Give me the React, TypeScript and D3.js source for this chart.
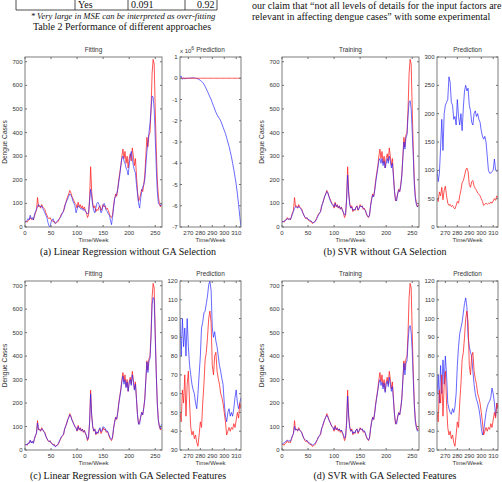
import { useEffect, useRef } from "react";
import * as d3 from "d3";

// weekly dengue cases in the training period, every 2nd week from week 0 to 262
const actualFit = [
  22, 25, 20, 28, 30, 40, 32, 35, 30, 45,
  60, 70, 125, 85, 90, 80, 95, 85, 80, 75,
  60, 50, 40, 35, 40, 30, 28, 22, 25, 15,
  18, 20, 25, 35, 45, 55, 60, 65, 90, 100,
  115, 130, 140, 155, 145, 130, 120, 110, 100, 95,
  80, 105, 85, 95, 80, 90, 75, 85, 70, 60,
  40, 50, 120, 255, 150, 100, 80, 90, 65, 75,
  70, 85, 90, 70, 80, 95, 85, 90, 75, 80,
  70, 55, 45, 40, 50, 90, 120, 140, 130, 160,
  200, 230, 260, 300, 330, 290, 320, 270, 300, 250,
  290, 310, 280, 335, 300, 260, 290, 220, 150, 110,
  120, 140, 160, 150, 180, 220, 300, 380, 340, 390,
  400, 500, 650, 710, 690, 500, 330, 200, 130, 100,
  85, 95,
];

// fitted values, linear regression on all factors
const fitLrAll = [
  20, 22, 28, 35, 30, 50, 35, 40, 30, 50,
  65, 75, 85, 95, 90, 85, 90, 80, 70, 60,
  50, 40, 20, 5, 0, 20, 30, 35, 20, 15,
  20, 25, 30, 35, 40, 50, 60, 70, 80, 100,
  110, 120, 130, 140, 135, 125, 110, 100, 90, 60,
  75, 90, 85, 80, 75, 80, 70, 75, 65, 60,
  55, 60, 110, 160, 130, 90, 70, 60, 80, 100,
  105, 95, 80, 60, 70, 95, 100, 85, 70, 65,
  55, 50, 30, 10, 40, 80, 120, 130, 140, 160,
  190, 220, 260, 290, 300, 280, 270, 250, 240, 220,
  260, 300, 320, 290, 260, 240, 230, 180, 140, 100,
  80, 120, 150, 170, 180, 200, 260, 320, 360, 400,
  440, 500, 555, 550, 500, 380, 250, 150, 100, 95,
  90, 100,
];

// training output, SVR on all factors
const fitSvrAll = [
  20, 22, 25, 28, 30, 35, 33, 35, 32, 40,
  55, 65, 80, 85, 85, 80, 88, 82, 78, 70,
  60, 50, 42, 38, 38, 32, 30, 28, 25, 20,
  18, 20, 25, 32, 42, 50, 58, 65, 85, 100,
  115, 130, 140, 150, 145, 130, 115, 105, 95, 92,
  85, 100, 88, 92, 82, 88, 78, 82, 72, 62,
  50, 55, 115, 220, 140, 95, 80, 85, 70, 75,
  72, 82, 88, 72, 78, 90, 85, 88, 78, 75,
  70, 58, 48, 42, 50, 88, 115, 135, 128, 155,
  190, 220, 250, 280, 290, 270, 290, 260, 280, 250,
  270, 290, 270, 300, 280, 250, 270, 210, 150, 115,
  110, 140, 155, 150, 175, 215, 290, 360, 330, 380,
  390, 470, 530, 535, 500, 400, 300, 180, 120, 95,
  85, 90,
];

// fitted values, linear regression on GA selected features
const fitLrGa = [
  20, 24, 22, 30, 28, 42, 30, 38, 28, 48,
  62, 72, 115, 88, 85, 82, 90, 88, 78, 72,
  58, 48, 42, 36, 38, 32, 26, 20, 22, 14,
  16, 22, 28, 38, 48, 58, 62, 68, 88, 102,
  112, 128, 138, 150, 142, 128, 118, 108, 98, 92,
  82, 100, 88, 92, 82, 88, 78, 82, 72, 62,
  45, 55, 115, 240, 145, 98, 82, 88, 68, 78,
  72, 88, 95, 78, 85, 100, 95, 92, 80, 82,
  72, 60, 50, 45, 55, 92, 118, 138, 132, 158,
  195, 225, 255, 290, 315, 280, 300, 265, 290, 250,
  285, 300, 275, 320, 290, 255, 280, 215, 145, 110,
  110, 140, 160, 150, 180, 215, 300, 375, 330, 380,
  390, 480, 620, 650, 640, 480, 320, 195, 125, 100,
  90, 110,
];

// training output, SVR on GA selected features
const fitSvrGa = [
  25, 28, 30, 35, 38, 42, 38, 40, 38, 48,
  60, 70, 100, 85, 88, 82, 90, 85, 80, 72,
  60, 50, 45, 40, 40, 35, 30, 28, 25, 22,
  22, 25, 30, 38, 45, 55, 62, 70, 90, 105,
  118, 130, 140, 148, 140, 128, 118, 108, 100, 95,
  85, 100, 88, 92, 85, 90, 80, 85, 75, 65,
  50, 58, 110, 230, 140, 95, 80, 85, 70, 78,
  72, 85, 90, 75, 82, 92, 88, 90, 80, 82,
  72, 58, 48, 42, 52, 90, 118, 138, 130, 158,
  195, 225, 255, 285, 300, 275, 290, 260, 285, 245,
  280, 295, 270, 310, 280, 250, 270, 210, 150, 115,
  110, 140, 158, 150, 178, 215, 295, 370, 320, 370,
  380, 460, 520, 530, 500, 420, 300, 190, 120, 95,
  80, 85,
];

// weekly dengue cases in the test period, weeks 263 to 314
const actualPred = [
  50, 45, 62, 55, 70, 48, 65, 72, 55, 42,
  38, 40, 36, 38, 34, 32, 38, 45, 42, 55,
  65, 78, 82, 90, 100, 104, 98, 75, 70, 80,
  82, 72, 68, 65, 60, 58, 55, 50, 45, 38,
  40, 42, 40, 42, 41, 44, 42, 46, 50, 47,
  55, 52,
];

// linear regression forecast on all factors, in millions of cases
const predLrAll = [
  0.08, 0.1, -0.05, 0.02, -0.03, 0, -0.01, 0, 0.01, 0,
  0.02, 0.01, 0.02, 0, -0.01, -0.03, -0.06, -0.1, -0.14, -0.2,
  -0.28, -0.38, -0.5, -0.62, -0.75, -0.88, -1.0, -1.15, -1.3, -1.45,
  -1.6, -1.72, -1.82, -1.9, -2.0, -2.15, -2.3, -2.45, -2.6, -2.8,
  -3.0, -3.2, -3.45, -3.7, -4.0, -4.3, -4.65, -5.0, -5.45, -5.95,
  -6.5, -7.0,
];

const predSvrAll = [
  100, 80, 95, 140, 190, 135, 200, 215, 220, 225,
  265, 255, 220, 215, 190, 195, 180, 225, 195, 180,
  200, 170, 210, 240, 250, 240, 245, 215, 205, 185,
  180, 200, 205, 195, 200, 190, 185, 170, 160, 155,
  160, 150, 125, 100, 95, 95, 98, 100, 120, 100,
  98, 100,
];

const predLrGa = [
  100, 80, 100, 85, 95, 80, 100, 85, 75, 70,
  65, 62, 60, 55, 52, 60, 70, 80, 95, 98,
  103, 104, 108, 112, 118, 120, 115, 95, 90, 93,
  88, 85, 80, 75, 72, 68, 65, 55, 48, 45,
  50, 52, 48, 50, 48, 52, 58, 62, 55, 52,
  55, 58,
];

const predSvrGa = [
  60, 70, 55, 75, 60, 78, 65, 80, 70, 55,
  52, 50, 49, 52, 50, 53, 60, 75, 85, 92,
  95, 98, 103, 108, 111, 106, 90, 85, 82, 80,
  72, 65, 60, 57, 55, 52, 48, 42, 38, 40,
  45, 50, 53, 55, 56, 58, 63, 60, 55, 48,
  55, 52,
];

const fitWeeks = d3.range(0, 263, 2);
const predWeeks = d3.range(263, 315);

const fitTicksX = [0, 50, 100, 150, 200, 250];
const fitTicksY = [0, 100, 200, 300, 400, 500, 600, 700];
const predTicksX = [270, 280, 290, 300, 310];

const captions = [
  "(a) Linear Regression without GA Selection",
  "(b) SVR without GA Selection",
  "(c) Linear Regression with GA Selected Features",
  "(d) SVR with GA Selected Features",
];

const SANS = "'Liberation Sans', Arial, sans-serif";
const SERIF = "'Liberation Serif', 'Times New Roman', serif";
const RED = "#ff2020";
const BLUE = "#2020ff";

const panels = [
  { caption: captions[0], fitTitle: "Fitting", fit: fitLrAll, pred: predLrAll, predY: [-7, 1], predTicksY: d3.range(-7, 2), actualScale: 1e-6, col: 0, row: 0, exp: true },
  { caption: captions[1], fitTitle: "Training", fit: fitSvrAll, pred: predSvrAll, predY: [0, 300], predTicksY: d3.range(0, 301, 50), actualScale: 1, col: 1, row: 0, exp: false },
  { caption: captions[2], fitTitle: "Fitting", fit: fitLrGa, pred: predLrGa, predY: [30, 120], predTicksY: d3.range(30, 121, 10), actualScale: 1, col: 0, row: 1, exp: false },
  { caption: captions[3], fitTitle: "Training", fit: fitSvrGa, pred: predSvrGa, predY: [30, 120], predTicksY: d3.range(30, 121, 10), actualScale: 1, col: 1, row: 1, exp: false },
];

const colX = [0, 257];
const rowY = [
  { top: 57, bottom: 227 },
  { top: 281, bottom: 450 },
];

function drawBox(g, x, y, xTicks, yTicks) {
  const [x0, x1] = x.range();
  const [y1, y0] = y.range();
  g.append("rect")
    .attr("x", x0).attr("y", y0)
    .attr("width", x1 - x0).attr("height", y1 - y0)
    .attr("fill", "none").attr("stroke", "#6f6f6f").attr("stroke-width", 0.9);
  xTicks.forEach((t) => {
    const px = x(t);
    g.append("line").attr("x1", px).attr("x2", px).attr("y1", y1).attr("y2", y1 - 2).attr("stroke", "#6f6f6f");
    g.append("line").attr("x1", px).attr("x2", px).attr("y1", y0).attr("y2", y0 + 2).attr("stroke", "#6f6f6f");
    g.append("text").attr("x", px).attr("y", y1 + 8.2)
      .attr("text-anchor", "middle").text(t);
  });
  yTicks.forEach((t) => {
    const py = y(t);
    g.append("line").attr("x1", x0).attr("x2", x0 + 2).attr("y1", py).attr("y2", py).attr("stroke", "#6f6f6f");
    g.append("line").attr("x1", x1).attr("x2", x1 - 2).attr("y1", py).attr("y2", py).attr("stroke", "#6f6f6f");
    g.append("text").attr("x", x0 - 2.5).attr("y", py + 2.1)
      .attr("text-anchor", "end").text(t);
  });
}

const App = () => {
  const ref = useRef(null);

  useEffect(() => {
    if (!ref.current) return;
    const svg = d3.select(ref.current);
    svg.selectAll("*").remove();

    svg.append("rect").attr("width", 502).attr("height", 482).attr("fill", "#fff");

    // tail of the table and the running text above the figure
    const top = svg.append("g").attr("font-family", SERIF).attr("font-size", 10).attr("fill", "#111");
    [16, 75, 128, 185, 217].forEach((x) =>
      top.append("line").attr("x1", x).attr("x2", x).attr("y1", -1).attr("y2", 10).attr("stroke", "#222").attr("stroke-width", 0.8)
    );
    top.append("line").attr("x1", 16).attr("x2", 217).attr("y1", 10).attr("y2", 10).attr("stroke", "#222").attr("stroke-width", 0.8);
    top.append("text").attr("x", 78).attr("y", 8).text("Yes");
    top.append("text").attr("x", 131).attr("y", 8).text("0.091");
    top.append("text").attr("x", 197).attr("y", 8).text("0.92");
    top.append("text").attr("x", 123).attr("y", 19).attr("text-anchor", "middle")
      .attr("font-style", "italic").attr("font-size", 8.6)
      .text("* Very large in MSE can be interpreted as over-fitting");
    top.append("text").attr("x", 122).attr("y", 30).attr("text-anchor", "middle")
      .text("Table 2 Performance of different approaches");
    top.append("text").attr("x", 252).attr("y", 8.5)
      .text("our claim that \u201cnot all levels of details for the input factors are");
    top.append("text").attr("x", 252).attr("y", 19.5)
      .text("relevant in affecting dengue cases\u201d with some experimental");

    panels.forEach((p, idx) => {
      const dx = colX[p.col];
      const { top: t0, bottom: b0 } = rowY[p.row];
      const g = svg.append("g").attr("font-family", SANS).attr("font-size", 6).attr("fill", "#333");

      // training / fitting panel
      const xf = d3.scaleLinear().domain([0, 263]).range([25 + dx, 162 + dx]);
      const yf = d3.scaleLinear().domain([0, 720]).range([b0, t0]);
      const lineF = d3.line().x((d, i) => xf(fitWeeks[i])).y((d) => yf(d));
      const clipF = `clipf${idx}`;
      g.append("clipPath").attr("id", clipF).append("rect")
        .attr("x", 25 + dx).attr("y", t0).attr("width", 137).attr("height", b0 - t0);
      const lf = g.append("g").attr("clip-path", `url(#${clipF})`).attr("fill", "none");
      lf.append("path").attr("d", lineF(actualFit)).attr("stroke", RED).attr("stroke-width", 0.9).attr("stroke-opacity", 0.85);
      lf.append("path").attr("d", lineF(p.fit)).attr("stroke", BLUE).attr("stroke-width", 0.9).attr("stroke-opacity", 0.7);
      drawBox(g, xf, yf, fitTicksX, fitTicksY);
      g.append("text").attr("x", xf(131.5)).attr("y", t0 - 5).attr("font-size", 6.4).attr("text-anchor", "middle").text(p.fitTitle);
      g.append("text").attr("x", xf(131.5)).attr("y", b0 + 15).attr("text-anchor", "middle").text("Time/Week");
      g.append("text")
        .attr("transform", `translate(${7 + dx},${(t0 + b0) / 2}) rotate(-90)`)
        .attr("font-size", 6.6)
        .attr("text-anchor", "middle").text("Dengue Cases");

      // prediction panel
      const xp = d3.scaleLinear().domain([263, 314]).range([180 + dx, 241 + dx]);
      const yp = d3.scaleLinear().domain(p.predY).range([b0, t0]);
      const lineP = d3.line().x((d, i) => xp(predWeeks[i])).y((d) => yp(d));
      const clipP = `clipp${idx}`;
      g.append("clipPath").attr("id", clipP).append("rect")
        .attr("x", 180 + dx).attr("y", t0).attr("width", 61).attr("height", b0 - t0);
      const lp = g.append("g").attr("clip-path", `url(#${clipP})`).attr("fill", "none");
      lp.append("path").attr("d", lineP(p.pred)).attr("stroke", BLUE).attr("stroke-width", 0.9).attr("stroke-opacity", 0.75);
      lp.append("path").attr("d", lineP(actualPred.map((v) => v * p.actualScale))).attr("stroke", RED).attr("stroke-width", 0.9).attr("stroke-opacity", 0.85);
      drawBox(g, xp, yp, predTicksX, p.predTicksY);
      g.append("text").attr("x", xp(288.5)).attr("y", t0 - 5).attr("font-size", 6.4).attr("text-anchor", "middle").text("Prediction");
      g.append("text").attr("x", xp(288.5)).attr("y", b0 + 15).attr("text-anchor", "middle").text("Time/Week");
      if (p.exp) {
        const e = g.append("text").attr("x", 180 + dx).attr("y", t0 - 4.5);
        e.append("tspan").text("x 10");
        e.append("tspan").attr("dy", -3).attr("font-size", 5).text("6");
      }

      svg.append("text").attr("x", 128 + dx).attr("y", p.row === 0 ? 255 : 478.5)
        .attr("text-anchor", "middle").attr("font-family", SERIF).attr("font-size", 10).attr("fill", "#111")
        .text(p.caption);
    });
  }, []);

  return (
    <svg
      ref={ref}
      width={502}
      height={482}
      style={{ position: "absolute", left: 0, top: 0 }}
    ></svg>
  );
};

export default App;
